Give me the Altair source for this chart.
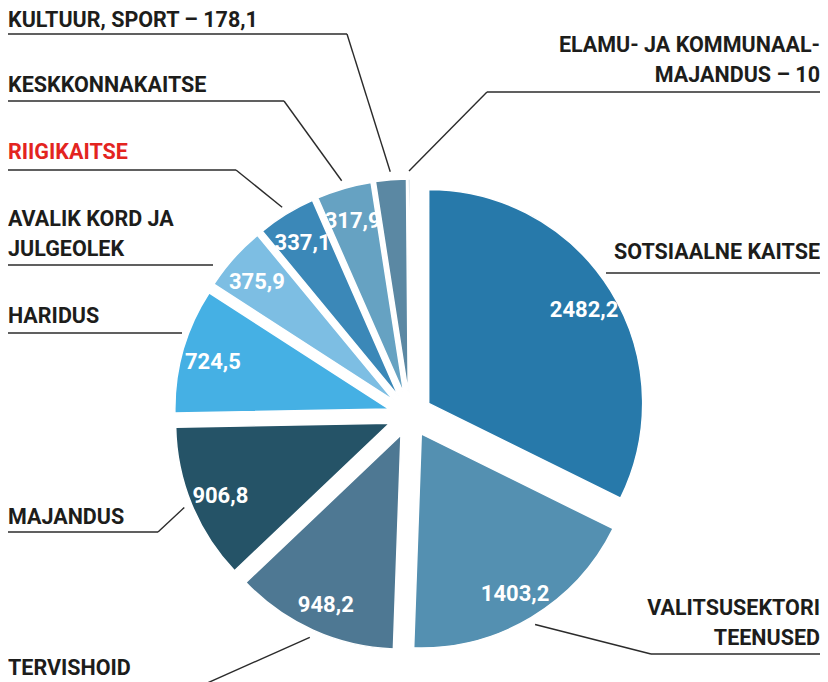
import math
import altair as alt
import pandas as pd

# ---------------- data ----------------
categories = [
    "SOTSIAALNE KAITSE", "VALITSUSEKTORI TEENUSED", "TERVISHOID", "MAJANDUS",
    "HARIDUS", "AVALIK KORD JA JULGEOLEK", "RIIGIKAITSE", "KESKKONNAKAITSE",
    "KULTUUR, SPORT", "ELAMU- JA KOMMUNAALMAJANDUS",
]
values = [2482.2, 1403.2, 948.2, 906.8, 724.5, 375.9, 337.1, 317.9, 178.1, 10.0]
colors = ["#2779aa", "#5490b1", "#4e7893", "#255367", "#45b0e4",
          "#7dbee3", "#3b88b8", "#66a2c2", "#5b88a3", "#3f7394"]

# outer label text lines per category
label_text = [
    ["SOTSIAALNE KAITSE"],
    ["VALITSUSEKTORI", "TEENUSED"],
    ["TERVISHOID"],
    ["MAJANDUS"],
    ["HARIDUS"],
    ["AVALIK KORD JA", "JULGEOLEK"],
    ["RIIGIKAITSE"],
    ["KESKKONNAKAITSE"],
    ["KULTUUR, SPORT – 178,1"],
    ["ELAMU- JA KOMMUNAAL-", "MAJANDUS – 10"],
]

# ---------------- layout (page px) ----------------
OFF = 8
W, H = 812, 674
RIGHT = 820
CX, CY = 410 - OFF, 415 - OFF
R = 214
EXPLODE = 22
TEXT_R = 183
LEADER_R = 222
FONT = "Roboto, sans-serif"
LABEL_SIZE = 21.5
VALUE_SIZE = 22
LINE_COLOR = "#2b2b2b"
DARK = "#1d1d1b"

# label placement: (x, first baseline, align, color)
label_pos = [
    (RIGHT, 259, "right", DARK),
    (RIGHT, 615, "right", DARK),
    (8, 675, "left", DARK),
    (8, 524, "left", DARK),
    (8, 323, "left", DARK),
    (8, 226, "left", DARK),
    (8, 159, "left", "#e3241f"),
    (8, 92, "left", DARK),
    (8, 27, "left", DARK),
    (RIGHT, 52, "right", DARK),
]
LINE_H = 30
# leader polylines: "A" = anchor on the slice, then knee/end points
leaders = [
    [(606, 273), (RIGHT, 273)],
    ["A", (651, 654), (RIGHT, 654)],
    ["A", (196, 688)],
    ["A", (158, 532), (8, 532)],
    [(182, 333), (8, 333)],
    [(213, 265), (8, 265)],
    ["A", (236, 170), (8, 170)],
    ["A", (284, 101), (8, 101)],
    ["A", (347, 34), (8, 34)],
    ["A", (487, 92), (RIGHT, 92)],
]

# ---------------- slices ----------------
slices = pd.DataFrame({"category": categories, "value": values,
                       "order": list(range(len(values)))})

base = (
    alt.Chart(slices)
    .transform_joinaggregate(total="sum(value)")
    .transform_window(cum="sum(value)", sort=[alt.SortField(field="order", order="ascending")],
                      frame=[None, 0])
    .transform_calculate(start="2*PI*(datum.cum - datum.value)/datum.total")
    .transform_calculate(end="2*PI*datum.cum/datum.total")
    .transform_calculate(mid="(datum.start + datum.end)/2")
    .transform_calculate(ex=f"{CX} + {EXPLODE}*sin(datum.mid)")
    .transform_calculate(ey=f"{CY} - {EXPLODE}*cos(datum.mid)")
)

arcs = base.mark_arc(radius=R, stroke="white", strokeWidth=1.5).encode(
    x=alt.X("ex:Q", scale=None, axis=None),
    y=alt.Y("ey:Q", scale=None, axis=None),
    theta=alt.Theta("start:Q", scale=None, stack=False),
    theta2=alt.Theta2("end:Q"),
    color=alt.Color("category:N", scale=alt.Scale(domain=categories, range=colors), legend=None),
)

vals = (
    base.transform_filter("datum.value > 200")
    .transform_calculate(tx=f"datum.ex + {TEXT_R}*sin(datum.mid)")
    .transform_calculate(ty=f"datum.ey - {TEXT_R}*cos(datum.mid)")
    .transform_calculate(lbl="replace(format(datum.value, '.1f'), '.', ',')")
    .mark_text(font=FONT, fontSize=VALUE_SIZE, fontWeight="bold", color="white",
               align="center", baseline="middle", dy=3)
    .encode(x=alt.X("tx:Q", scale=None, axis=None),
            y=alt.Y("ty:Q", scale=None, axis=None),
            text="lbl:N")
)

# ---------------- leader lines ----------------
total = sum(values)
cum = 0.0
mids = []
for v in values:
    mids.append(2 * math.pi * (cum + v / 2) / total)
    cum += v

segs = []
for i, pts in enumerate(leaders):
    m = mids[i]
    real = []
    for p in pts:
        if p == "A":
            real.append((CX + (EXPLODE + LEADER_R) * math.sin(m),
                         CY - (EXPLODE + LEADER_R) * math.cos(m)))
        else:
            real.append((p[0] - OFF, p[1] - OFF))
    for a, b in zip(real[:-1], real[1:]):
        segs.append({"x": a[0], "y": a[1], "x2": b[0], "y2": b[1]})
seg_df = pd.DataFrame(segs)

rules = alt.Chart(seg_df).mark_rule(color=LINE_COLOR, strokeWidth=1.4).encode(
    x=alt.X("x:Q", scale=None, axis=None), y=alt.Y("y:Q", scale=None, axis=None),
    x2="x2:Q", y2="y2:Q",
)

# ---------------- outer labels ----------------
rows = []
for i, lines in enumerate(label_text):
    x, y0, al, col = label_pos[i]
    for j, t in enumerate(lines):
        rows.append({"t": t, "x": x - OFF, "y": y0 - OFF + j * LINE_H, "al": al, "col": col})
lab_df = pd.DataFrame(rows)

def lab_layer(al):
    return (
        alt.Chart(lab_df).transform_filter(f"datum.al == '{al}'")
        .mark_text(font=FONT, fontSize=LABEL_SIZE, fontWeight="bold", align=al, baseline="alphabetic")
        .encode(x=alt.X("x:Q", scale=None, axis=None), y=alt.Y("y:Q", scale=None, axis=None),
                text="t:N", color=alt.Color("col:N", scale=None))
    )

chart = (
    alt.layer(arcs, vals, rules, lab_layer("left"), lab_layer("right"))
    .properties(width=W, height=H, padding=0, autosize="none", background="white")
    .configure_view(stroke=None)
)

chart.save("out.html", embed_options={"renderer": "svg", "actions": False})
